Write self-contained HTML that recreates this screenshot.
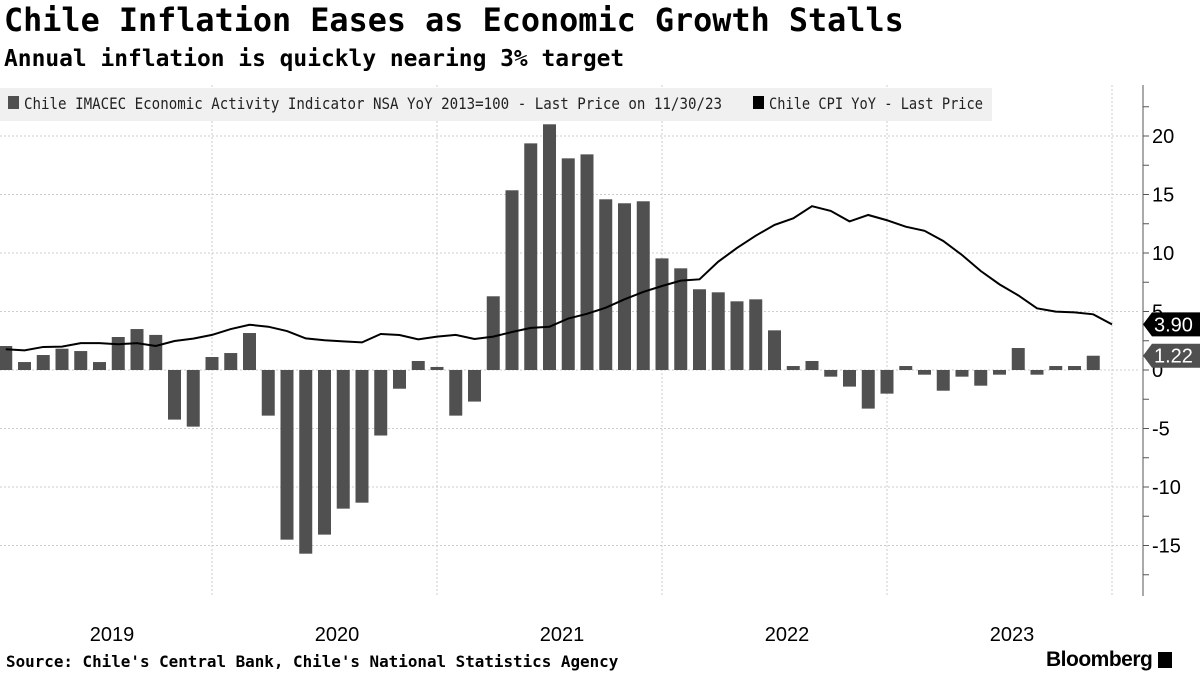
<!DOCTYPE html>
<html><head><meta charset="utf-8">
<style>
body{margin:0;background:#fff;width:1200px;height:675px;overflow:hidden;font-family:"Liberation Sans",sans-serif;}
.m{font-family:"DejaVu Sans Mono","Liberation Mono",monospace;font-weight:bold;color:#000;position:absolute;white-space:nowrap}
#t{left:4px;top:2px;font-size:31.8px}
#s{left:4px;top:46px;font-size:22.9px}
#src{left:6px;top:652px;font-size:15.9px}
#logo{position:absolute;left:1046px;top:648px;font-size:21px;font-weight:bold;color:#000;letter-spacing:-0.5px}
svg{position:absolute;left:0;top:0}
</style></head><body>
<div id="t" class="m">Chile Inflation Eases as Economic Growth Stalls</div>
<div id="s" class="m">Annual inflation is quickly nearing 3% target</div>
<div id="src" class="m">Source: Chile's Central Bank, Chile's National Statistics Agency</div>
<div id="logo">Bloomberg <span style="display:inline-block;width:14px;height:16px;background:#000;vertical-align:-2px"></span></div>
<svg id="c" width="1200" height="675"></svg>
<script>
const years=["2019","2020","2021","2022","2023"];
const yTicks=[20,15,10,5,0,-5,-10,-15];
const imacec=[2.05,0.68,1.28,1.82,1.62,0.68,2.82,3.5,3.0,-4.24,-4.84,1.11,
1.45,3.16,-3.9,-14.5,-15.7,-14.07,-11.85,-11.34,-5.6,-1.6,0.77,0.26,
-3.9,-2.7,6.3,15.36,19.37,21.0,18.09,18.43,14.59,14.25,14.42,9.54,
8.69,6.9,6.64,5.87,6.04,3.39,0.34,0.77,-0.57,-1.42,-3.3,-2.02,
0.34,-0.4,-1.77,-0.57,-1.34,-0.4,1.88,-0.4,0.34,0.34,1.22];
const cpi=[1.77,1.68,1.97,2.0,2.3,2.3,2.2,2.3,2.05,2.48,2.68,3.0,
3.5,3.87,3.7,3.33,2.7,2.54,2.45,2.36,3.08,2.99,2.62,2.85,
3.0,2.65,2.85,3.25,3.6,3.7,4.4,4.8,5.33,6.04,6.67,7.18,
7.64,7.75,9.26,10.43,11.48,12.4,12.96,14.0,13.6,12.7,13.25,12.8,
12.25,11.9,11.03,9.83,8.46,7.32,6.38,5.27,4.99,4.93,4.76,3.9];
const NS="http://www.w3.org/2000/svg",svg=document.getElementById('c');
const x=i=>-13+18.75*(i+1);
const y=v=>370-v*11.7;
function el(t,a,p){const e=document.createElementNS(NS,t);for(const k in a)e.setAttribute(k,a[k]);(p||svg).appendChild(e);return e;}
yTicks.forEach(v=>{const l=el('line',{x1:0,x2:1140,y1:y(v),y2:y(v),stroke:'#ccc','stroke-dasharray':'2,2'});
});
for(let k=1;k<=5;k++){const gx=-13+225*k;const l=el('line',{x1:gx,x2:gx,y1:85,y2:595,stroke:'#ccc','stroke-dasharray':'2,2'});
}
const lg=el('rect',{x:0,y:88,width:992,height:33,fill:'#f0f0f0'});

el('rect',{x:8,y:96,width:11,height:13,fill:'#505050'});
const l1=el('text',{x:24,y:109,'font-size':16,fill:'#222','font-family':'DejaVu Sans Mono, monospace',textLength:698,lengthAdjust:'spacingAndGlyphs'});l1.textContent='Chile IMACEC Economic Activity Indicator NSA YoY 2013=100 - Last Price on 11/30/23';

el('rect',{x:753,y:96,width:11,height:13,fill:'#000'});
const l2=el('text',{x:769,y:109,'font-size':16,fill:'#222','font-family':'DejaVu Sans Mono, monospace',textLength:214,lengthAdjust:'spacingAndGlyphs'});l2.textContent='Chile CPI YoY - Last Price';

imacec.forEach((v,i)=>{const r=el('rect',{x:x(i)-6.5,y:Math.min(y(v),y(0)),width:13,height:Math.abs(y(v)-y(0)),fill:'#505050'});
});
const p=el('polyline',{points:cpi.map((v,i)=>x(i)+','+y(v)).join(' '),fill:'none',stroke:'#000','stroke-width':2});

const ax=el('line',{x1:1143,x2:1143,y1:85,y2:596,stroke:'#555'});

for(let v=-17.5;v<=22.5;v+=2.5){el('line',{x1:1143,x2:1149,y1:y(v),y2:y(v),stroke:'#555'});}
yTicks.forEach(v=>{const t=el('text',{x:1152,y:y(v)+7,'font-size':20,fill:'#000'});t.textContent=v;
});
years.forEach((s,k)=>{const t=el('text',{x:-13+225*k+125,y:641,'font-size':20,'text-anchor':'middle',fill:'#000'});t.textContent=s;
});
function tag(v,txt,col,name){const yy=y(v);const g=el('g',{});

el('polygon',{points:`1143,${yy} 1152,${yy-12} 1200,${yy-12} 1200,${yy+12} 1152,${yy+12}`,fill:col},g);
const t=el('text',{x:1154,y:yy+7,'font-size':20,fill:'#fff'},g);t.textContent=txt;}
tag(cpi[cpi.length-1],'3.90','#000','cpi-last-tag');
tag(imacec[imacec.length-1],'1.22','#505050','imacec-last-tag');
</script>
</body></html>
